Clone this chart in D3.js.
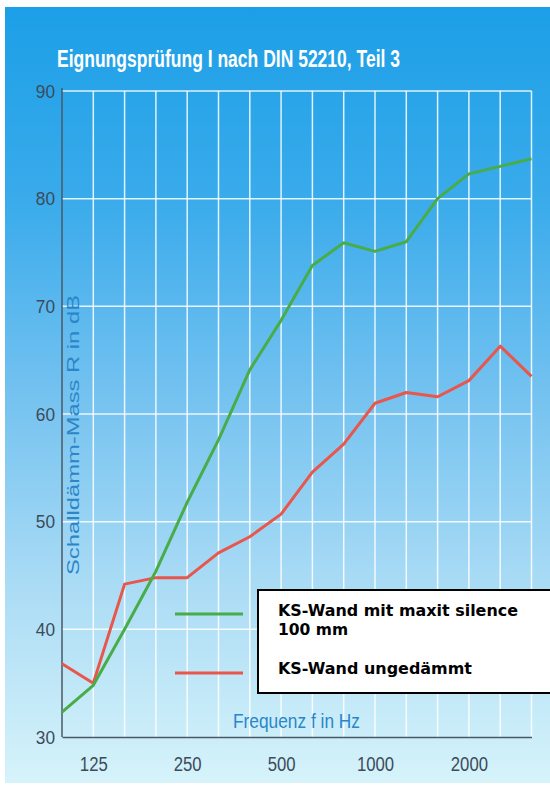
<!DOCTYPE html>
<html><head><meta charset="utf-8">
<script src="https://cdn.jsdelivr.net/npm/d3@7"></script>
<style>
html,body{margin:0;padding:0;background:#fff;}
svg{display:block;}
</style></head>
<body>
<svg id="c" width="550" height="789"></svg>
<script>
const frequencies = ["100","125","160","200","250","315","400","500","630","800","1000","1250","1600","2000","2500","3150"];
const xTickLabels = ["125","250","500","1000","2000"];
const yTicks = [30,40,50,60,70,80,90];
const greenValues = [32.3,34.8,40.0,45.4,51.8,57.6,64.1,68.7,73.8,75.9,75.1,76.0,80.0,82.3,83.0,83.7];
const redValues   = [36.8,35.0,44.2,44.8,44.8,47.1,48.6,50.7,54.6,57.2,61.0,62.0,61.6,63.1,66.3,63.5];
const seriesNames = ["KS-Wand mit maxit silence|100 mm","KS-Wand ungedämmt"];
const titleText = "Eignungsprüfung I nach DIN 52210, Teil 3";
const yTitle = "Schalldämm-Mass R in dB";
const xTitle = "Frequenz f in Hz";

const sans = "'Liberation Sans',Arial,sans-serif";
const svg = d3.select("#c");
const defs = svg.append("defs");
const grad = defs.append("linearGradient").attr("id","bg").attr("x1",0).attr("y1",0).attr("x2",0).attr("y2",1);
[[0,"#1c9fe7"],[0.25,"#3aabeb"],[0.5,"#74c2f0"],[0.75,"#abdcf5"],[1,"#d6f3fa"]].forEach(([o,c])=>grad.append("stop").attr("offset",o).attr("stop-color",c));

svg.append("rect").attr("x",5).attr("y",7).attr("width",545).attr("height",776).attr("fill","url(#bg)");

const x = d3.scalePoint().domain(frequencies).range([62,531.5]);
const y = d3.scaleLinear().domain([30,90]).range([737,91]);

// grid
const grid = svg.append("g").attr("stroke","#ffffff").attr("stroke-opacity",0.85).attr("stroke-width",1.5);
grid.selectAll("line.v").data(frequencies.slice(1)).join("line").attr("class","v")
  .attr("x1",d=>x(d)).attr("x2",d=>x(d)).attr("y1",y(90)).attr("y2",y(30));
grid.selectAll("line.h").data(yTicks.slice(1)).join("line").attr("class","h")
  .attr("x1",x(frequencies[0])).attr("x2",x(frequencies[frequencies.length-1])).attr("y1",d=>y(d)).attr("y2",d=>y(d));

// axes
const yAxis = svg.append("g").attr("transform",`translate(${x(frequencies[0])},0)`)
  .call(d3.axisLeft(y).tickValues(yTicks).tickSize(0).tickPadding(7));
yAxis.select(".domain").attr("stroke","#4a5866").attr("stroke-width",1.5).attr("d",`M0,${y(90)-3}V${y(30)}`);
yAxis.selectAll("text").attr("font-family",sans).attr("font-size",19).attr("fill","#3c4b5a")
  .attr("textLength",d=>String(d).length*9.6).attr("lengthAdjust","spacingAndGlyphs");

const xAxis = svg.append("g").attr("transform",`translate(0,${y(30)})`)
  .call(d3.axisBottom(x).tickValues(xTickLabels).tickSize(0).tickPadding(19));
xAxis.select(".domain").attr("stroke","#4a5866").attr("stroke-width",1.5);
xAxis.selectAll("text").attr("font-family",sans).attr("font-size",20.5).attr("fill","#3c4b5a")
  .attr("textLength",d=>String(d).length*9.3).attr("lengthAdjust","spacingAndGlyphs");

// lines
const line = d3.line().x((d,i)=>x(frequencies[i])).y(d=>y(d));
svg.append("path").datum(redValues).attr("d",line).attr("fill","none").attr("stroke","#e8564c").attr("stroke-width",3).attr("stroke-linejoin","round");
svg.append("path").datum(greenValues).attr("d",line).attr("fill","none").attr("stroke","#48ad48").attr("stroke-width",3).attr("stroke-linejoin","round");

// title
svg.append("text").attr("x",57).attr("y",66.5).text(titleText)
  .attr("font-family",sans).attr("font-weight","bold").attr("font-size",23).attr("fill","#ffffff")
  .attr("textLength",343).attr("lengthAdjust","spacingAndGlyphs");

// axis titles
svg.append("text").attr("transform","translate(79,435) rotate(-90)").attr("text-anchor","middle").text(yTitle)
  .attr("font-family",sans).attr("font-size",17).attr("fill","#2a86c8")
  .attr("textLength",280).attr("lengthAdjust","spacingAndGlyphs");
svg.append("text").attr("x",233).attr("y",728).text(xTitle)
  .attr("font-family",sans).attr("font-size",21).attr("fill","#2a86c8")
  .attr("textLength",127).attr("lengthAdjust","spacingAndGlyphs");

// legend
const lg = svg.append("g");
lg.append("rect").attr("x",258).attr("y",590).attr("width",300).attr("height",103).attr("fill","#fff").attr("stroke","#000").attr("stroke-width",2);
lg.append("line").attr("x1",175).attr("x2",243).attr("y1",614).attr("y2",614).attr("stroke","#48ad48").attr("stroke-width",3);
lg.append("line").attr("x1",175).attr("x2",243).attr("y1",673).attr("y2",673).attr("stroke","#e8564c").attr("stroke-width",3);
const lt = lg.append("g").attr("font-family","'DejaVu Sans',Verdana,sans-serif").attr("font-weight","bold").attr("font-size",15.5).attr("fill","#000");
const n1 = seriesNames[0].split("|");
lt.append("text").attr("x",278).attr("y",616).text(n1[0]).attr("textLength",240).attr("lengthAdjust","spacingAndGlyphs");
lt.append("text").attr("x",278).attr("y",635).text(n1[1]);
lt.append("text").attr("x",278).attr("y",674).text(seriesNames[1]).attr("textLength",194).attr("lengthAdjust","spacingAndGlyphs");
</script>
</body></html>
